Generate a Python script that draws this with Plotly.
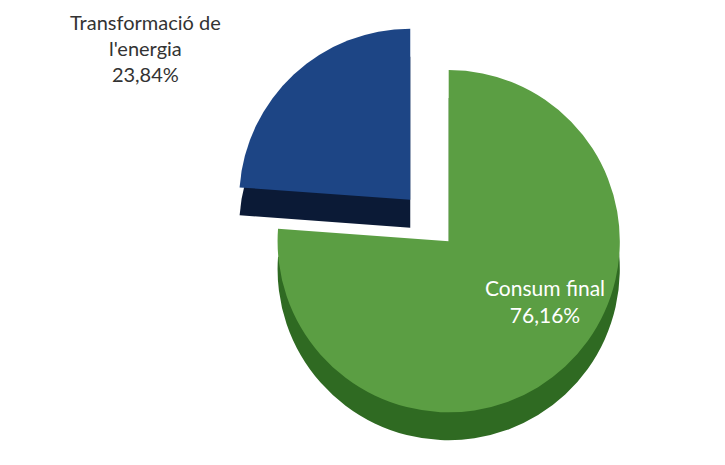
import plotly.graph_objects as go

labels = ["Consum final", "Transformació de l'energia"]
values = [76.16, 23.84]
top_colors = ["#5b9e43", "#1d4585"]
side_colors = ["#2f6a22", "#0b1a36"]
pulls = [0.08, 0.25]

def fmt(v):
    return f"{v:.2f}".replace(".", ",") + "%"

fig = go.Figure()

common = dict(
    labels=labels, values=values, sort=False, direction="clockwise",
    rotation=0, pull=pulls, textinfo="none", hoverinfo="label+percent",
    showlegend=False,
)

# depth (side faces)
fig.add_trace(go.Pie(
    marker=dict(colors=side_colors, line=dict(width=0)),
    domain=dict(x=[0.19, 1.0], y=[0.0, 0.92]),
    **common,
))
# top faces
fig.add_trace(go.Pie(
    marker=dict(colors=top_colors, line=dict(width=0)),
    domain=dict(x=[0.19, 1.0], y=[0.06, 0.98]),
    **common,
))

font = "Lato, Open Sans, sans-serif"
fig.add_annotation(
    x=0.19, y=1.0, xref="paper", yref="paper", xanchor="center", yanchor="top",
    text=labels[1].replace(" de ", " de<br>") + "<br>" + fmt(values[1]),
    showarrow=False, font=dict(family=font, size=20, color="#333333"),
)
fig.add_annotation(
    x=0.74, y=0.37, xref="paper", yref="paper", xanchor="center", yanchor="middle",
    text=labels[0] + "<br>" + fmt(values[0]),
    showarrow=False, font=dict(family=font, size=21, color="#ffffff"),
)

fig.update_layout(
    width=725, height=465,
    margin=dict(l=0, r=0, t=0, b=0),
    paper_bgcolor="white", plot_bgcolor="white",
)

fig.write_html("out.html")
